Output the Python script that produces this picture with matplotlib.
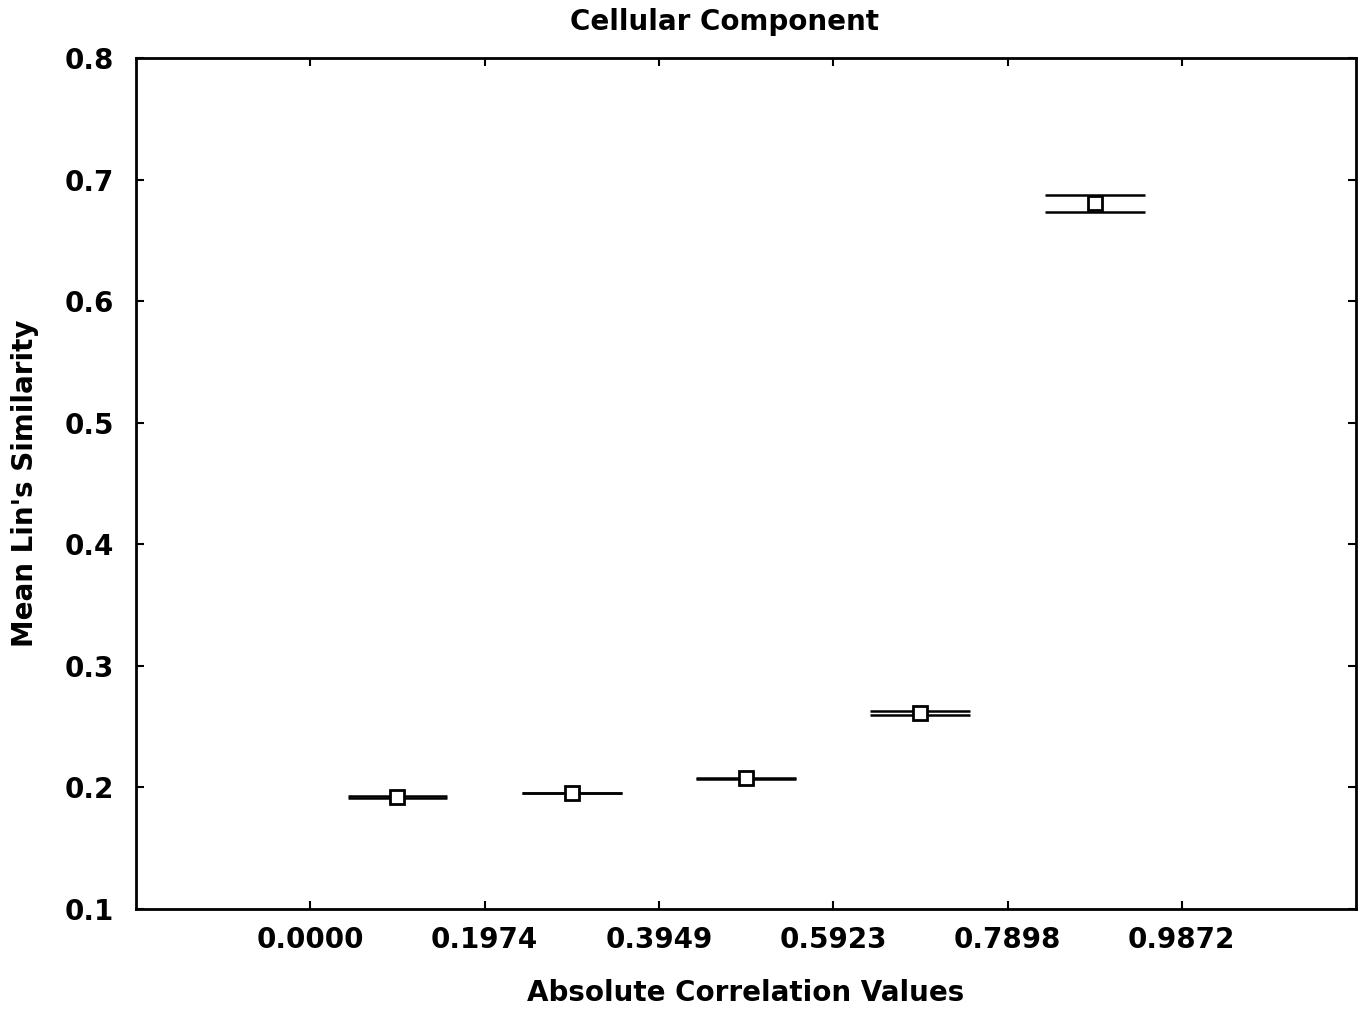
import matplotlib.pyplot as plt
import numpy as np

# bins of absolute correlation and the mean similarity in each
tick_vals = [0.0, 0.1974, 0.3949, 0.5923, 0.7898, 0.9872]
tick_labels = ["0.0000", "0.1974", "0.3949", "0.5923", "0.7898", "0.9872"]
bin_centers = [0.0987, 0.2961, 0.4936, 0.6910, 0.8885]
mean_sim = [0.1925, 0.1955, 0.2074, 0.2609, 0.6807]
upper_ci = [0.1932, 0.1958, 0.2076, 0.2630, 0.6875]
lower_ci = [0.1916, 0.1953, 0.2072, 0.2593, 0.6733]

plt.rcParams['font.family'] = ['DejaVu Sans']
plt.rcParams['font.weight'] = 'bold'

fig = plt.figure(figsize=(13.63, 10.10), dpi=100)
ax = fig.add_axes([0.0998, 0.1, 0.8951, 0.8423])

half = 0.0565
x = np.array(bin_centers)
ax.hlines(upper_ci, x - half, x + half, colors='black', linewidth=1.8, zorder=2)
ax.hlines(lower_ci, x - half, x + half, colors='black', linewidth=1.8, zorder=2)
ax.plot(x, mean_sim, linestyle='none', marker='s', markersize=10,
        markerfacecolor='white', markeredgecolor='black', markeredgewidth=2, zorder=3)

ax.set_xlim(-0.1974, 1.1846)
ax.set_ylim(0.1, 0.8)
ax.set_xticks(tick_vals)
ax.set_xticklabels(tick_labels)
ax.set_yticks(np.arange(0.1, 0.81, 0.1))
ax.set_yticklabels([f"{v:.1f}" for v in np.arange(0.1, 0.81, 0.1)])
ax.tick_params(direction='in', length=6, width=1.5, labelsize=20,
               top=True, right=True, pad=12)
ax.tick_params(axis='y', pad=16)
for s in ax.spines.values():
    s.set_linewidth(2)

ax.set_title("Cellular Component", fontsize=20, fontweight='bold', pad=20, x=0.482)
ax.set_xlabel("Absolute Correlation Values", fontsize=20, fontweight='bold', labelpad=18)
ax.set_ylabel("Mean Lin's Similarity", fontsize=20, fontweight='bold', labelpad=18)

fig.savefig("out.png", dpi=100)
